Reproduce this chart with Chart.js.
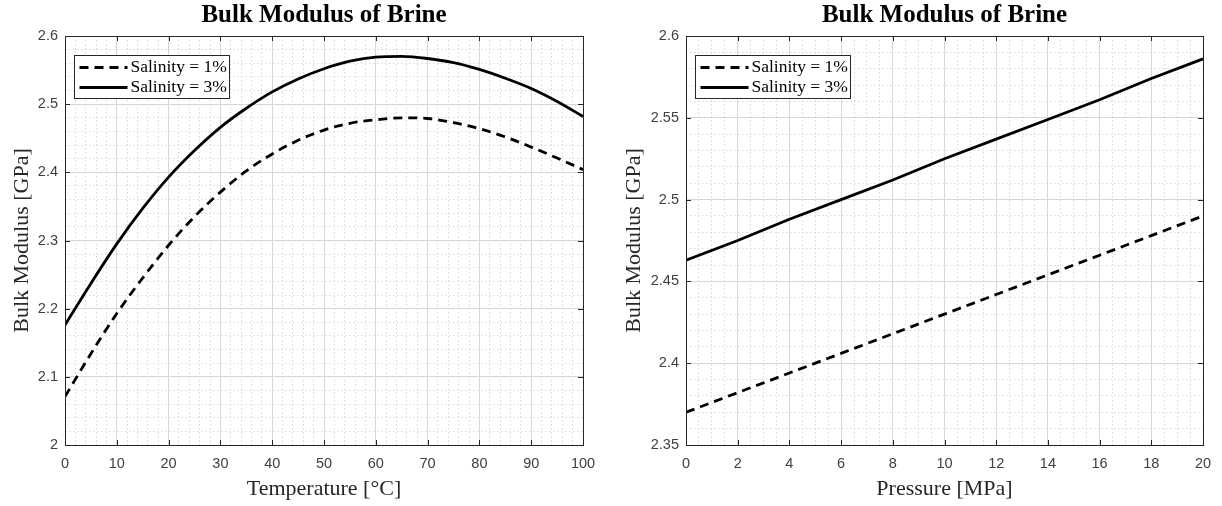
<!DOCTYPE html>
<html>
<head>
<meta charset="utf-8">
<script src="https://cdn.jsdelivr.net/npm/chart.js@4"></script>
<style>
  html, body { margin: 0; padding: 0; background: #fff; overflow: hidden; }
  #wrap { position: relative; width: 1222px; height: 506px; }
  canvas { position: absolute; top: 0; }
  #leftChart { left: 0; }
  #rightChart { left: 600px; }
</style>
</head>
<body>
<div id="wrap">
  <canvas id="leftChart" width="600" height="506"></canvas>
  <canvas id="rightChart" width="622" height="506"></canvas>
</div>
<script>
// values
var temperature = [0, 5, 10, 15, 20, 25, 30, 35, 40, 45, 50, 55, 60, 65, 70, 75, 80, 85, 90, 95, 100];
var kTempSal1 = [2.071, 2.134, 2.193, 2.245, 2.293, 2.335, 2.371, 2.402, 2.427, 2.447, 2.462, 2.472, 2.477, 2.480, 2.479, 2.473, 2.464, 2.452, 2.437, 2.421, 2.404];
var kTempSal3 = [2.176, 2.237, 2.295, 2.347, 2.393, 2.432, 2.466, 2.494, 2.518, 2.537, 2.552, 2.563, 2.569, 2.570, 2.567, 2.561, 2.551, 2.538, 2.523, 2.504, 2.482];

var pressure = [0, 2, 4, 6, 8, 10, 12, 14, 16, 18, 20];
var kPresSal1 = [2.370, 2.382, 2.394, 2.406, 2.418, 2.430, 2.442, 2.454, 2.466, 2.478, 2.490];
var kPresSal3 = [2.463, 2.475, 2.488, 2.500, 2.512, 2.525, 2.537, 2.549, 2.561, 2.574, 2.586];

var seriesLabels = ['Salinity = 1%', 'Salinity = 3%'];
var chartTitle = 'Bulk Modulus of Brine';
var yTitle = 'Bulk Modulus [GPa]';

Chart.defaults.font.family = '"Liberation Sans", Arial, sans-serif';

// frame, inward tick marks and boxed legend, matlab style
var framePlugin = {
  id: 'framePlugin',
  afterDraw: function (chart) {
    var ctx = chart.ctx, a = chart.chartArea;
    var xs = chart.scales.x, ys = chart.scales.y;
    ctx.save();
    ctx.strokeStyle = '#262626';
    ctx.lineWidth = 1;
    ctx.setLineDash([]);
    ctx.beginPath();
    xs.ticks.forEach(function (t) {
      var px = Math.round(xs.getPixelForValue(t.value)) + 0.5;
      ctx.moveTo(px, a.bottom); ctx.lineTo(px, a.bottom - 5);
      ctx.moveTo(px, a.top); ctx.lineTo(px, a.top + 5);
    });
    ys.ticks.forEach(function (t) {
      var py = Math.round(ys.getPixelForValue(t.value)) + 0.5;
      ctx.moveTo(a.left, py); ctx.lineTo(a.left + 5, py);
      ctx.moveTo(a.right, py); ctx.lineTo(a.right - 5, py);
    });
    ctx.stroke();
    ctx.strokeRect(Math.round(a.left) + 0.5, Math.round(a.top) + 0.5,
      Math.round(a.right - a.left), Math.round(a.bottom - a.top));

    // legend
    var lx = Math.round(a.left) + 9.5, ly = Math.round(a.top) + 19.5;
    ctx.font = '17.5px "Liberation Serif"';
    var tw = 0;
    chart.data.datasets.forEach(function (ds) {
      tw = Math.max(tw, ctx.measureText(ds.label).width);
    });
    var w = Math.round(56 + tw + 3), h = 43;
    ctx.fillStyle = '#fff';
    ctx.fillRect(lx, ly, w, h);
    ctx.strokeStyle = '#262626';
    ctx.lineWidth = 1;
    ctx.strokeRect(lx, ly, w, h);
    chart.data.datasets.forEach(function (ds, i) {
      var cy = ly + 12 + i * 20;
      ctx.setLineDash(ds.borderDash || []);
      ctx.lineWidth = ds.borderWidth;
      ctx.strokeStyle = ds.borderColor;
      ctx.beginPath();
      ctx.moveTo(lx + 5, cy);
      ctx.lineTo(lx + 53, cy);
      ctx.stroke();
      ctx.setLineDash([]);
      ctx.fillStyle = '#000';
      ctx.textBaseline = 'middle';
      ctx.textAlign = 'left';
      ctx.fillText(ds.label, lx + 56, cy);
    });
    ctx.restore();
  }
};

function tickLabel(v) {
  return String(Math.round(v * 1000) / 1000);
}

function makeChart(id, xVals, s1, s3, ax) {
  var ctx = document.getElementById(id).getContext('2d');
  return new Chart(ctx, {
    type: 'line',
    data: {
      datasets: [{
        label: seriesLabels[0],
        data: xVals.map(function (x, i) { return { x: x, y: s1[i] }; }),
        borderColor: '#000',
        borderWidth: 2.8,
        borderDash: [9, 6],
        pointRadius: 0,
        fill: false,
        cubicInterpolationMode: ax.curved ? 'monotone' : 'default',
        tension: 0
      }, {
        label: seriesLabels[1],
        data: xVals.map(function (x, i) { return { x: x, y: s3[i] }; }),
        borderColor: '#000',
        borderWidth: 2.8,
        pointRadius: 0,
        fill: false,
        cubicInterpolationMode: ax.curved ? 'monotone' : 'default',
        tension: 0
      }]
    },
    options: {
      responsive: false,
      animation: false,
      layout: { padding: { left: 0, right: ax.padRight, top: 0, bottom: 0 } },
      plugins: {
        legend: { display: false },
        tooltip: { enabled: false },
        title: {
          display: true,
          text: chartTitle,
          fullSize: false,
          color: '#000',
          font: { family: '"Liberation Serif"', size: 25, weight: 'bold', lineHeight: 1.2 },
          padding: { top: 1, bottom: 5 }
        }
      },
      scales: {
        x: {
          type: 'linear',
          min: ax.xMin, max: ax.xMax,
          grid: { color: '#d6d6d6', drawTicks: false, lineWidth: 1 },
          border: { display: false },
          ticks: { stepSize: ax.xStep, padding: 10, color: '#404040', font: { size: 14.5 }, callback: tickLabel, maxRotation: 0 },
          title: {
            display: true, text: ax.xTitle, color: '#262626',
            font: { family: '"Liberation Serif"', size: 22, lineHeight: 1.2 },
            padding: { top: 0, bottom: 4 }
          },
          afterFit: function (s) { s.height = 61; s.paddingLeft = 0; s.paddingRight = 0; }
        },
        y: {
          type: 'linear',
          min: ax.yMin, max: ax.yMax,
          grid: { color: '#d6d6d6', drawTicks: false, lineWidth: 1 },
          border: { display: false },
          ticks: { stepSize: ax.yStep, padding: 7, color: '#404040', font: { size: 14.5 }, callback: tickLabel },
          title: {
            display: true, text: yTitle, color: '#262626',
            font: { family: '"Liberation Serif"', size: 22, lineHeight: 1.2 },
            padding: { top: ax.yTitlePad, bottom: 0 }
          },
          afterFit: function (s) { s.width = ax.yWidth; s.paddingTop = 0; s.paddingBottom = 0; }
        },
        xMinor: {
          type: 'linear', axis: 'x', position: 'bottom',
          min: ax.xMin, max: ax.xMax,
          grid: { color: '#d8d8d8', drawTicks: false, lineWidth: 1, z: -1 },
          border: { display: false, dash: [1.5, 2.5] },
          ticks: { display: false, stepSize: ax.xMinor, maxTicksLimit: 200 },
          afterFit: function (s) { s.height = 0; s.paddingLeft = 0; s.paddingRight = 0; }
        },
        yMinor: {
          type: 'linear', axis: 'y', position: 'left',
          min: ax.yMin, max: ax.yMax,
          grid: { color: '#d8d8d8', drawTicks: false, lineWidth: 1, z: -1 },
          border: { display: false, dash: [1.5, 2.5] },
          ticks: { display: false, stepSize: ax.yMinor, maxTicksLimit: 200 },
          afterFit: function (s) { s.width = 0; s.paddingTop = 0; s.paddingBottom = 0; }
        }
      }
    },
    plugins: [framePlugin]
  });
}

makeChart('leftChart', temperature, kTempSal1, kTempSal3, {
  curved: true,
  xMin: 0, xMax: 100, xStep: 10, xMinor: 2,
  yMin: 2, yMax: 2.6, yStep: 0.1, yMinor: 0.02,
  xTitle: 'Temperature [°C]',
  yWidth: 65, yTitlePad: 9, padRight: 17
});

makeChart('rightChart', pressure, kPresSal1, kPresSal3, {
  curved: false,
  xMin: 0, xMax: 20, xStep: 2, xMinor: 0.5,
  yMin: 2.35, yMax: 2.6, yStep: 0.05, yMinor: 0.01,
  xTitle: 'Pressure [MPa]',
  yWidth: 86, yTitlePad: 21, padRight: 19
});
</script>
</body>
</html>
